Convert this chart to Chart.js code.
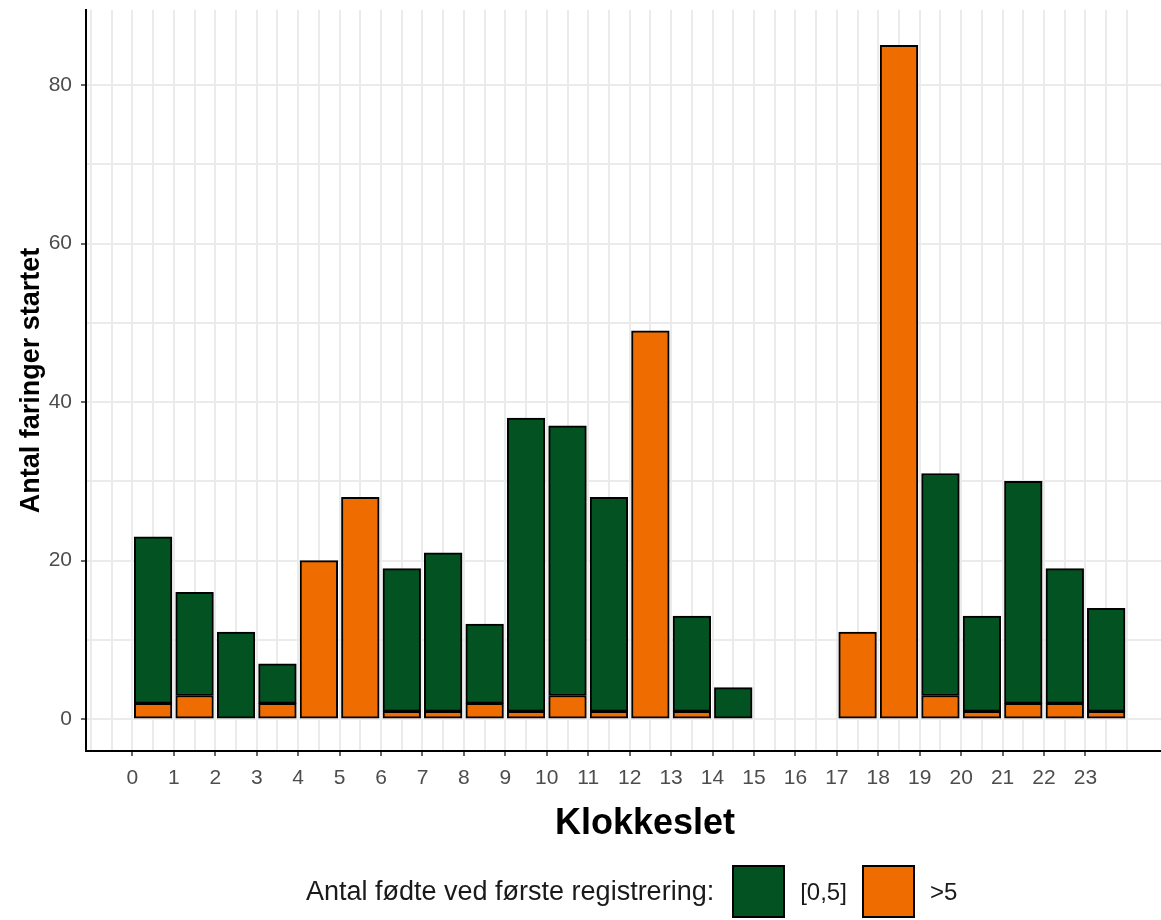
<!DOCTYPE html>
<html>
<head>
<meta charset="utf-8">
<script src="https://cdn.jsdelivr.net/npm/chart.js@4/dist/chart.umd.min.js"></script>
<style>
  html, body { margin: 0; padding: 0; background: #fff; overflow: hidden; }
  #wrap { position: relative; width: 1161px; height: 920px; overflow: hidden; }
  #box { position: absolute; left: 0; top: 0; width: 1204px; height: 920px; }
  #legend { position: absolute; left: 306px; top: 865px; height: 53px; display: flex; align-items: center;
            font-family: 'Liberation Sans', Arial, sans-serif; color: #1a1a1a; white-space: nowrap; }
  #legend .ttl { font-size: 27px; margin-right: 18px; }
  #legend .key { width: 49px; height: 49px; border: 2px solid #000; margin-right: 15px; }
  #legend .lbl { font-size: 24px; margin-right: 15px; }
</style>
</head>
<body>
<div id="wrap">
  <div id="box"><canvas id="hourChart"></canvas></div>
  <div id="legend"></div>
</div>
<script>
// klokkeslet (bins) og antal faringer pr. gruppe
const hours = [0, 1, 2, 3, 4, 5, 6, 7, 8, 9, 10, 11, 12, 13, 14, 15, 16, 17, 18, 19, 20, 21, 22, 23];
const lowBorn = [21, 13, 11, 5, 0, 0, 18, 20, 10, 37, 34, 27, 0, 12, 4, 0, 0, 0, 0, 28, 12, 28, 17, 13];   // [0,5]
const highBorn = [2, 3, 0, 2, 20, 28, 1, 1, 2, 1, 3, 1, 49, 1, 0, 0, 0, 11, 85, 3, 1, 2, 2, 1];           // >5
const seriesNames = ['[0,5]', '>5'];
const seriesColors = ['#035221', '#EE6C00'];
const xTickLabels = hours.map(String);
const yTickValues = [0, 20, 40, 60, 80];
const legendTitle = 'Antal fødte ved første registrering:';

Chart.defaults.font.family = "'Liberation Sans', Arial, sans-serif";

const gridCol = '#EBEBEB';
const hidden = 'rgba(0,0,0,0)';

function barData(values) {
  return hours.map((h, i) => ({ x: h + 0.5, y: values[i] === 0 ? null : values[i] }));
}

const barStyle = {
  borderColor: '#000',
  borderWidth: 2,
  borderSkipped: false,
  barThickness: 'flex',
  barPercentage: 0.91,
  categoryPercentage: 1,
  stack: 'all'
};

const dataHours = {
  datasets: [
    Object.assign({ label: seriesNames[1], data: barData(highBorn), backgroundColor: seriesColors[1] }, barStyle),
    Object.assign({ label: seriesNames[0], data: barData(lowBorn), backgroundColor: seriesColors[0] }, barStyle)
  ]
};

const configHours = {
  type: 'bar',
  data: dataHours,
  options: {
    responsive: true,
    maintainAspectRatio: false,
    animation: false,
    layout: { padding: { top: 10, bottom: 74, left: 0, right: 0 } },
    plugins: {
      legend: { display: false },
      tooltip: { enabled: false }
    },
    scales: {
      x: {
        type: 'linear',
        stacked: true,
        offset: false,
        min: -1.12,
        max: 25.86,
        afterBuildTicks: (scale) => {
          const t = [];
          for (let v = -1; v <= 24; v += 0.5) t.push({ value: v });
          scale.ticks = t;
        },
        afterFit: (scale) => {
          scale.height = 95;
          scale.paddingLeft = 0;
          scale.paddingRight = 0;
        },
        ticks: {
          autoSkip: false,
          maxRotation: 0,
          padding: 10,
          color: '#4D4D4D',
          font: { size: 21 },
          callback: (v) => {
            const i = hours.indexOf(v);
            return i >= 0 ? xTickLabels[i] : '';
          }
        },
        grid: {
          offset: false,
          color: gridCol,
          lineWidth: 2,
          tickLength: 5,
          tickWidth: 1.5,
          tickColor: (ctx) => hours.indexOf(ctx.tick.value) >= 0 ? '#333' : hidden
        },
        border: { color: '#000', width: 2 },
        title: {
          display: true,
          text: 'Klokkeslet',
          color: '#000',
          font: { size: 36, weight: 'bold' },
          padding: { top: 0, bottom: 0 }
        }
      },
      y: {
        stacked: true,
        min: -4,
        max: 89.45,
        afterBuildTicks: (scale) => {
          const t = [];
          for (let v = 0; v <= 80; v += 10) t.push({ value: v });
          scale.ticks = t;
        },
        afterFit: (scale) => {
          scale.width = 86;
          scale.paddingTop = 0;
          scale.paddingBottom = 0;
        },
        ticks: {
          padding: 9,
          color: '#4D4D4D',
          font: { size: 21 },
          callback: (v) => yTickValues.indexOf(v) >= 0 ? String(v) : ''
        },
        grid: {
          color: gridCol,
          lineWidth: 2,
          tickLength: 5,
          tickWidth: 1.5,
          tickColor: (ctx) => yTickValues.indexOf(ctx.tick.value) >= 0 ? '#333' : hidden
        },
        border: { color: '#000', width: 2 },
        title: {
          display: true,
          text: 'Antal faringer startet',
          color: '#000',
          font: { size: 27, weight: 'bold' },
          padding: { top: 15, bottom: 0 }
        }
      }
    }
  }
};

let hourChart = new Chart(document.getElementById('hourChart'), configHours);

// legend i bunden, som i ggplot
const legendBox = document.getElementById('legend');
let html = '<span class="ttl">' + legendTitle + '</span>';
seriesNames.forEach((name, i) => {
  html += '<span class="key" style="background:' + seriesColors[i] + '"></span>';
  html += '<span class="lbl">' + name.replace('>', '&gt;') + '</span>';
});
legendBox.innerHTML = html;
</script>
</body>
</html>
